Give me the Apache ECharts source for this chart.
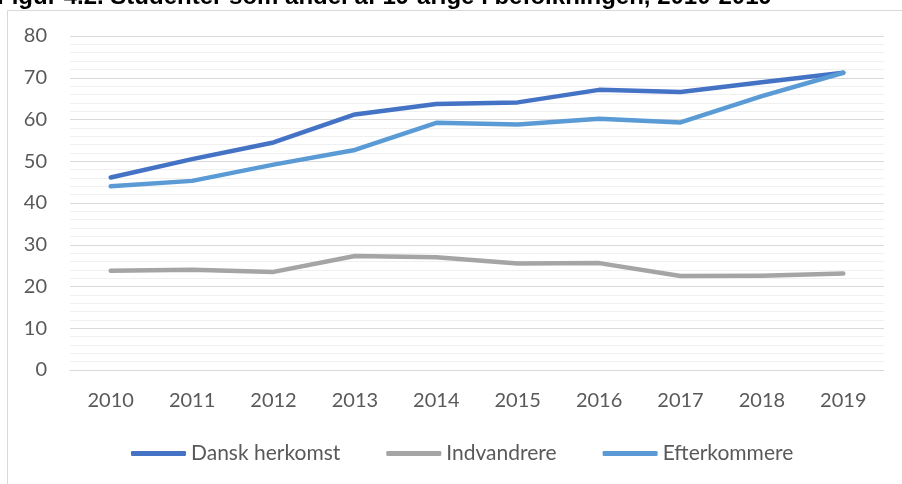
<!DOCTYPE html>
<html>
<head>
<meta charset="utf-8">
<script src="https://cdn.jsdelivr.net/npm/echarts@6/dist/echarts.min.js"></script>
<style>html,body{margin:0;padding:0;background:#fff;}#c{width:902px;height:484px;}</style>
</head>
<body>
<div id="c"></div>
<script>
const titleText = 'Figur 4.2. Studenter som andel af 19-årige i befolkningen, 2010-2019';
const years = ['2010','2011','2012','2013','2014','2015','2016','2017','2018','2019'];
const dansk = [46.1, 50.5, 54.5, 61.2, 63.7, 64.1, 67.1, 66.6, 68.9, 71.2];
const indvandrere = [23.8, 24.0, 23.5, 27.3, 27.0, 25.5, 25.6, 22.5, 22.6, 23.1];
const efterkommere = [44.0, 45.3, 49.2, 52.7, 59.2, 58.8, 60.2, 59.3, 65.6, 71.2];
const seriesNames = ['Dansk herkomst', 'Indvandrere', 'Efterkommere'];
const colors = ['#4472C4', '#A5A5A5', '#5B9BD5'];

const chart = echarts.init(document.getElementById('c'), null, {renderer: 'canvas'});
const font = 'Lato';
function line(name, data, color) {
  return {
    name: name, type: 'line', data: data, symbol: 'none', smooth: false,
    lineStyle: {color: color, width: 4.5, cap: 'round', join: 'round'},
    itemStyle: {color: color}
  };
}
chart.setOption({
  animation: false,
  backgroundColor: '#fff',
  color: colors,
  graphic: [
    {type: 'rect', shape: {x: 7.5, y: 10.5, width: 1000, height: 1000},
     style: {fill: 'none', stroke: '#D9D9D9', lineWidth: 1}, z: -1},
    {type: 'text', left: -3, top: -15,
     style: {text: titleText, font: 'bold 24px "Liberation Sans"', fill: '#000'}}
  ],
  grid: {left: 70, right: 18, top: 36, bottom: 114, containLabel: false},
  xAxis: {
    type: 'category', data: years, boundaryGap: true,
    axisLine: {show: true, lineStyle: {color: '#D9D9D9', width: 1}},
    axisTick: {show: false},
    axisLabel: {color: '#595959', fontSize: 20, fontFamily: font, margin: 21}
  },
  yAxis: {
    type: 'value', min: 0, max: 80, interval: 10,
    axisLine: {show: false}, axisTick: {show: false},
    axisLabel: {color: '#595959', fontSize: 20, fontFamily: font, margin: 23},
    splitLine: {show: true, lineStyle: {color: '#D9D9D9', width: 1}},
    minorTick: {show: false, splitNumber: 5},
    minorSplitLine: {show: true, lineStyle: {color: '#F0F0F0', width: 1}}
  },
  legend: {
    left: 126, top: 438,
    icon: 'roundRect', itemWidth: 55, itemHeight: 5, itemGap: 46,
    textStyle: {color: '#595959', fontSize: 21, fontFamily: font},
    data: seriesNames
  },
  series: [
    line(seriesNames[0], dansk, colors[0]),
    line(seriesNames[1], indvandrere, colors[1]),
    line(seriesNames[2], efterkommere, colors[2])
  ]
});
</script>
</body>
</html>
